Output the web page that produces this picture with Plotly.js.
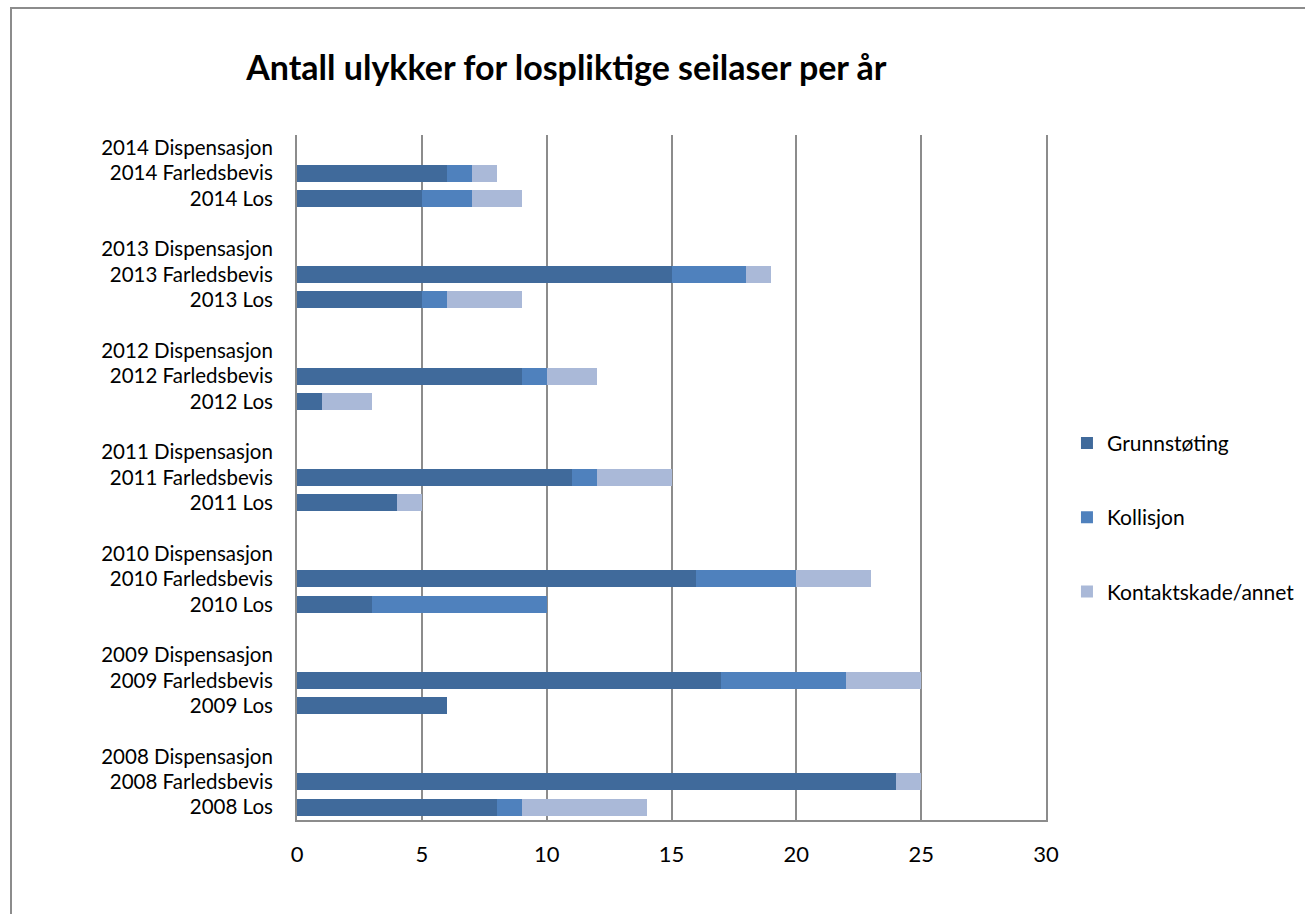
<!DOCTYPE html>
<html>
<head>
<meta charset="utf-8">
<script src="https://cdn.plot.ly/plotly-3.0.1.min.js"></script>
<style>
  html, body { margin: 0; padding: 0; background: #fff; }
  #chart { width: 1305px; height: 914px; }
  #frame { position: absolute; left: 10px; top: 7px; width: 1400px; height: 1000px;
           border-left: 2px solid #8c8c8c; border-top: 2px solid #8c8c8c; pointer-events: none; }
</style>
</head>
<body>
<div id="chart"></div>
<div id="frame"></div>
<script>
const years = [2008, 2009, 2010, 2011, 2012, 2013, 2014];
const types = ['Los', 'Farledsbevis', 'Dispensasjon'];
const seriesNames = ['Grunnstøting', 'Kollisjon', 'Kontaktskade/annet'];
const seriesColors = ['#406a9b', '#4f81bd', '#aab9d8'];

// values per year, in order [Los, Farledsbevis, Dispensasjon]
const grunnstoting = [
  [8, 24, 0], [6, 17, 0], [3, 16, 0], [4, 11, 0], [1, 9, 0], [5, 15, 0], [5, 6, 0]
];
const kollisjon = [
  [1, 0, 0], [0, 5, 0], [7, 4, 0], [0, 1, 0], [0, 1, 0], [1, 3, 0], [2, 1, 0]
];
const kontaktskade = [
  [5, 1, 0], [0, 3, 0], [0, 3, 0], [1, 3, 0], [2, 2, 0], [3, 1, 0], [2, 1, 0]
];

// build category list (bottom to top) with blank separators between years
const categories = [];
const labelsFlat = [];
years.forEach((yr, i) => {
  types.forEach(t => { categories.push(yr + ' ' + t); labelsFlat.push(yr + ' ' + t); });
  if (i < years.length - 1) categories.push(' '.repeat(i + 1));
});

const allSeries = [grunnstoting, kollisjon, kontaktskade];
const traces = allSeries.map((s, k) => ({
  type: 'bar',
  orientation: 'h',
  name: seriesNames[k],
  legendgroup: 'g' + k,
  y: labelsFlat,
  x: s.flat(),
  marker: { color: seriesColors[k], line: { width: 0 } },
  hoverinfo: 'x+y+name'
}));

const layout = {
  width: 1305, height: 914,
  margin: { l: 297, r: 259, t: 135, b: 94, autoexpand: false },
  paper_bgcolor: '#ffffff',
  plot_bgcolor: '#ffffff',
  barmode: 'stack',
  bargap: 0.33,
  font: { family: 'Lato, "Open Sans", sans-serif', color: '#000' },
  title: {
    text: '<b>Antall ulykker for lospliktige seilaser per år</b>',
    font: { size: 34, family: 'Lato, "Open Sans", sans-serif', color: '#000' },
    x: 0.434, xref: 'container', xanchor: 'center',
    y: 0.925, yref: 'container', yanchor: 'middle'
  },
  xaxis: {
    range: [0, 30],
    tickvals: [0, 5, 10, 15, 20, 25, 30],
    showgrid: true, gridcolor: '#8c8c8c', gridwidth: 2,
    zeroline: false,
    showline: true, linecolor: '#8c8c8c', linewidth: 2,
    ticks: '', ticklabelstandoff: 14,
    tickfont: { size: 22 },
    fixedrange: true,
    automargin: false
  },
  yaxis: {
    type: 'category',
    categoryorder: 'array',
    categoryarray: categories,
    range: [-0.5, categories.length - 0.5],
    showgrid: false, zeroline: false,
    showline: true, mirror: true, linecolor: '#8c8c8c', linewidth: 2,
    ticks: '', ticklabelstandoff: 18,
    tickfont: { size: 20.5 },
    fixedrange: true,
    automargin: false
  },
  legend: {
    x: 1.028, xref: 'paper', xanchor: 'left',
    y: 0.442, yanchor: 'middle',
    traceorder: 'grouped', tracegroupgap: 44,
    font: { size: 21 },
    bgcolor: 'rgba(0,0,0,0)'
  },
  showlegend: true
};

Plotly.newPlot('chart', traces, layout, { displayModeBar: false, staticPlot: true });
</script>
</body>
</html>
